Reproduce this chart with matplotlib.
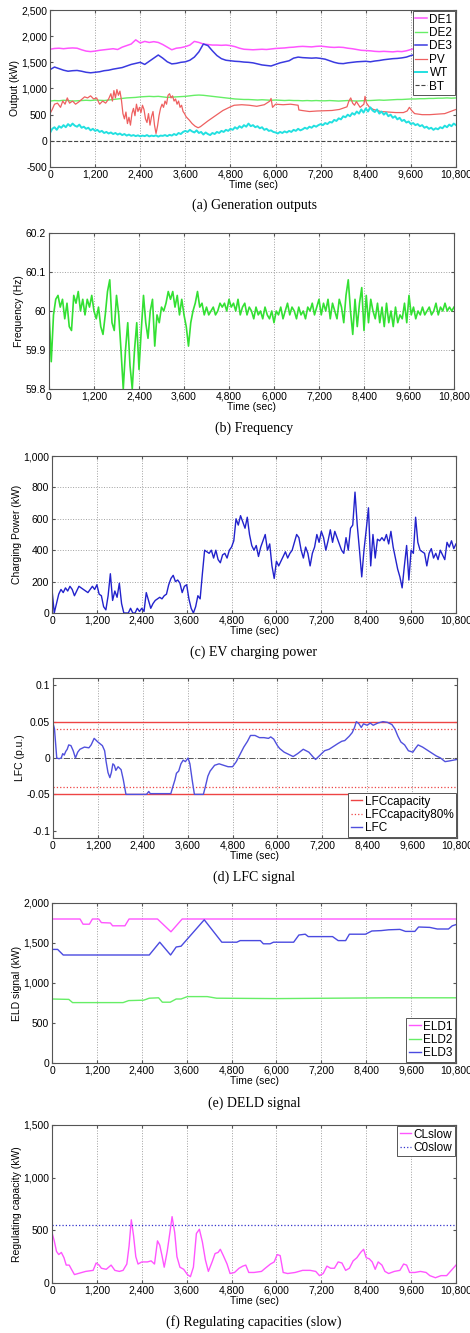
"""Six stacked microgrid panels: outputs, frequency, EV power, LFC, DELD, regulating capacity."""

import numpy as np
import matplotlib
matplotlib.use("Agg")
import matplotlib.pyplot as plt
import matplotlib.ticker as ticker

plt.rcParams["font.family"] = ["Liberation Sans", "DejaVu Sans"]

X_TICKS = [0, 1200, 2400, 3600, 4800, 6000, 7200, 8400, 9600, 10800]

# ---- (a) generation outputs ----
t_120 = np.arange(0, 10801, 120)
t_60 = np.arange(0, 10801, 60)

de1_kw = [1750, 1765, 1770, 1760, 1770, 1775, 1770, 1740, 1715, 1705,
          1715, 1730, 1740, 1750, 1760, 1745, 1790, 1820, 1850, 1930,
          1870, 1900, 1880, 1895, 1880, 1840, 1790, 1740, 1770, 1780,
          1800, 1830, 1900, 1880, 1850, 1840, 1830, 1830, 1825, 1830,
          1820, 1800, 1770, 1750, 1745, 1740, 1745, 1750, 1745, 1755,
          1765, 1770, 1775, 1785, 1790, 1800, 1805, 1800, 1795, 1805,
          1810, 1800, 1790, 1785, 1790, 1785, 1770, 1760, 1745, 1730,
          1725, 1720, 1710, 1705, 1710, 1705, 1700, 1710, 1705, 1720,
          1745, 1770, 1780, 1790, 1795, 1790, 1800, 1795, 1800, 1790,
          1780]
de2_kw = [760, 770, 765, 775, 770, 760, 765, 770, 775, 770,
          780, 775, 770, 780, 790, 800, 810, 820, 825, 830,
          840, 845, 850, 845, 850, 840, 830, 835, 840, 845,
          850, 860, 870, 875, 870, 860, 850, 840, 830, 820,
          810, 800, 795, 790, 790, 785, 780, 785, 780, 775,
          780, 775, 770, 775, 770, 770, 765, 770, 765, 770,
          765, 765, 770, 765, 760, 765, 770, 765, 760, 765,
          770, 770, 775, 780, 775, 780, 785, 790, 790, 795,
          800, 800, 805, 805, 810, 810, 815, 815, 820, 815,
          820]
de3_kw = [1360, 1410, 1380, 1350, 1330, 1340, 1345, 1330, 1310, 1300,
          1310, 1320, 1340, 1350, 1370, 1385, 1400, 1430, 1460, 1480,
          1500, 1460, 1520, 1580, 1640, 1580, 1510, 1470, 1480, 1500,
          1510, 1540, 1600, 1700, 1850, 1820, 1720, 1630, 1570, 1540,
          1530, 1520, 1515, 1505, 1500, 1490, 1470, 1450, 1440, 1430,
          1460, 1490, 1510, 1530, 1580, 1600, 1590, 1585, 1580, 1585,
          1575, 1560, 1530, 1500, 1480, 1475, 1490, 1500, 1510, 1515,
          1520, 1510, 1525, 1535, 1550, 1560, 1570, 1575, 1585, 1600,
          1630, 1650, 1645, 1640, 1645, 1640, 1650, 1645, 1650, 1645,
          1640]
pv_t = [0, 60, 120, 200, 280, 340, 400, 460, 520, 600, 680, 760, 840, 920,
        1000, 1080, 1160, 1240, 1320, 1400, 1480, 1560, 1620, 1660, 1700,
        1740, 1780, 1820, 1860, 1900, 1940, 1980, 2020, 2060, 2100, 2140,
        2180, 2220, 2260, 2300, 2340, 2380, 2420, 2460, 2500, 2540, 2580,
        2620, 2660, 2700, 2740, 2780, 2820, 2860, 2900, 2940, 2980, 3020,
        3060, 3100, 3140, 3180, 3220, 3260, 3300, 3340, 3380, 3420, 3460,
        3500, 3540, 3580, 3620, 3700, 3780, 3860, 3940, 4000, 4200, 4400,
        4600, 4800, 4900, 5100, 5300, 5500, 5700, 5850, 5880, 5920, 6000,
        6200, 6400, 6600, 6620, 6700, 6900, 7100, 7300, 7500, 7700, 7900,
        7950, 8000, 8050, 8100, 8150, 8250, 8350, 8380, 8420, 8500, 8600,
        8800, 9000, 9200, 9400, 9500, 9560, 9620, 9700, 9900, 10100, 10300,
        10500, 10650, 10800]
pv_kw = [520, 600, 700, 720, 640, 760, 700, 820, 720, 760, 700, 740, 790, 840,
         820, 860, 800, 820, 700, 760, 720, 800, 900, 760, 960,
         820, 980, 870, 950, 780, 520, 420, 550, 330, 450, 300,
         520, 620, 480, 700, 560, 640, 540, 680, 600, 420, 350,
         520, 300, 460, 560, 300, 140, 280, 480, 620, 700, 640,
         760, 700, 870, 900, 820, 860, 760, 800, 700, 760, 640,
         680, 560, 520, 460, 400, 330, 280, 250, 270, 380, 480,
         580, 650, 680, 690, 680, 660, 690, 760, 810, 640, 700,
         690, 700, 680, 590, 580, 560, 570, 575, 580, 600, 650,
         760, 820, 720, 680, 750, 640, 700, 850, 720, 640, 600,
         560, 550, 540, 540, 570, 640, 580, 520, 500, 500, 510,
         520, 560, 600]
wt_kw = [150, 230, 260, 210, 280, 250, 300, 260, 320, 280, 330, 290, 270, 310, 250, 270, 230, 250, 200, 230, 190,
         210, 170, 190, 150, 170, 140, 160, 130, 150, 120, 140, 110, 130, 100, 120, 95, 110, 90, 105, 85,
         100, 90, 110, 85, 100, 90, 105, 80, 100, 95, 110, 90, 115, 100, 130, 110, 150, 130, 170, 190,
         170, 210, 180, 160, 200, 150, 170, 120, 160, 130, 110, 150, 130, 170, 150, 190, 170, 210, 190, 230,
         210, 260, 230, 280, 250, 300, 270, 330, 280, 300, 260, 280, 240, 260, 210, 230, 190, 200, 170, 160,
         140, 170, 150, 180, 160, 190, 170, 210, 190, 230, 200, 220, 250, 230, 270, 250, 290, 270, 300, 320,
         300, 340, 320, 360, 350, 400, 380, 430, 410, 470, 450, 500, 470, 530, 500, 560, 520, 600, 540, 620,
         560, 640, 580, 550, 600, 520, 560, 500, 540, 470, 500, 440, 470, 410, 440, 380, 400, 350, 370, 320,
         340, 300, 320, 280, 300, 250, 270, 230, 250, 210, 240, 220, 260, 240, 290, 260, 310, 280, 330, 300]
bt_t = [0, 10800]
bt_kw = [0, 0]

# ---- (b) frequency ----
freq_hz = [60.00, 59.87, 59.99, 60.03, 60.04, 60.01, 60.03, 59.98, 60.02, 59.96, 59.95, 60.04, 60.02, 60.05, 60.00, 60.03, 59.99, 60.03, 60.01, 60.04, 60.00,
           59.98, 60.01, 59.96, 59.94, 59.99, 60.05, 60.08, 59.97, 59.95, 60.04, 59.99, 59.90, 59.80, 59.90, 59.97, 59.86, 59.80, 59.90, 59.97, 59.85,
           59.95, 60.04, 59.97, 59.93, 60.00, 60.03, 59.91, 59.99, 59.97, 60.01, 60.00, 60.02, 60.05, 60.03, 60.05, 60.01, 60.04, 59.99, 60.03, 59.99,
           59.96, 59.91, 59.97, 60.00, 60.02, 60.05, 60.01, 60.02, 59.99, 60.01, 59.99, 60.00, 60.01, 59.99, 60.00, 60.02, 60.01, 60.02, 60.00, 60.03,
           60.01, 60.02, 60.00, 60.03, 59.99, 60.01, 60.02, 59.99, 60.01, 60.00, 59.98, 60.01, 59.99, 60.00, 59.98, 60.01, 59.99, 59.98, 60.00, 59.97,
           60.00, 59.99, 60.01, 59.98, 60.00, 60.02, 59.99, 60.01, 60.00, 59.98, 60.01, 59.99, 60.00, 59.98, 60.01, 60.00, 60.02, 59.99, 60.01, 60.03,
           59.99, 60.02, 60.00, 60.03, 59.98, 60.02, 60.00, 59.98, 60.03, 60.01, 59.97, 60.04, 60.08, 60.00, 59.94, 60.03, 59.96, 60.02, 60.06, 59.95,
           60.04, 59.97, 60.03, 60.00, 59.98, 60.02, 59.97, 60.01, 59.96, 60.02, 59.97, 60.00, 59.96, 60.01, 59.97, 59.99, 59.98, 60.02, 59.97, 60.04,
           59.99, 60.01, 59.98, 60.00, 59.99, 60.01, 59.99, 60.00, 60.01, 59.99, 60.00, 60.02, 59.99, 60.01, 60.00, 60.02, 60.00, 60.01, 60.00, 60.01]

# ---- (c) EV charging power ----
ev_kw = [150, 0, 60, 120, 150, 130, 160, 140, 170, 150, 110, 140, 170, 160, 150, 140, 130, 150, 170, 150, 180,
         120, 110, 40, 20, 110, 250, 80, 140, 100, 190, 60, 0, 0, 0, 30, 0, 0, 30, 10, 30,
         10, 130, 80, 30, 60, 80, 90, 100, 90, 110, 120, 180, 220, 240, 200, 210, 190, 130, 170, 180,
         90, 30, 0, 40, 110, 90, 250, 400, 390, 380, 400, 350, 400, 340, 320, 370, 380, 350, 400, 420,
         460, 600, 560, 620, 580, 540, 610, 500, 430, 400, 430, 360, 420, 460, 500, 400, 440, 300, 220, 330,
         300, 330, 360, 390, 350, 380, 400, 450, 500, 480, 400, 350, 420, 380, 300, 380, 420, 500, 450, 520,
         480, 400, 460, 530, 450, 520, 480, 440, 400, 380, 480, 400, 540, 560, 770, 560, 400, 230, 400, 530,
         670, 300, 500, 350, 470, 460, 480, 460, 500, 440, 520, 420, 350, 280, 230, 160, 300, 430, 210, 400,
         380, 610, 450, 400, 390, 380, 300, 380, 410, 350, 380, 340, 400, 370, 340, 450, 420, 460, 410, 440]

# ---- (d) LFC signal ----
lfc_t = [0, 40, 100, 160, 220, 260, 300, 340, 380, 420, 480, 540, 600, 660, 720,
         840, 960, 1020, 1100, 1200, 1320, 1380, 1420, 1470, 1520, 1560, 1600,
         1640, 1680, 1740, 1820, 1880, 1950, 2500, 2560, 2600, 3150, 3200, 3260,
         3300, 3360, 3420, 3480, 3540, 3610, 3660, 3720, 3780, 4020, 4080, 4140,
         4200, 4320, 4440, 4560, 4680, 4800, 4900, 5000, 5100, 5200, 5280, 5400,
         5520, 5640, 5760, 5820, 5900, 6000, 6060, 6180, 6300, 6420, 6540, 6690,
         6840, 6960, 7020, 7140, 7260, 7380, 7500, 7620, 7720, 7800, 7920, 8000,
         8060, 8110, 8180, 8240, 8300, 8400, 8480, 8560, 8680, 8820, 8940, 9060,
         9140, 9220, 9300, 9400, 9500, 9620, 9700, 9760, 9880, 10000, 10120,
         10240, 10360, 10480, 10600, 10700, 10800]
lfc_pu = [0.048, 0.04, 0.0, -0.001, 0.0, 0.006, 0.004, 0.009, 0.012, 0.018, 0.017, 0.01, 0.0, 0.008, 0.012,
          0.015, 0.014, 0.018, 0.027, 0.022, 0.017, 0.01, -0.005, -0.02, -0.027, -0.02, -0.008,
          -0.01, -0.017, -0.012, -0.016, -0.03, -0.05, -0.05, -0.046, -0.049, -0.049, -0.04, -0.03,
          -0.021, -0.018, -0.008, -0.003, -0.005, 0.0, -0.008, -0.03, -0.05, -0.05, -0.038, -0.025,
          -0.018, -0.01, -0.008, -0.01, -0.012, -0.012, -0.005, 0.005, 0.015, 0.023, 0.031, 0.031,
          0.028, 0.028, 0.027, 0.029, 0.026, 0.017, 0.013, 0.008, 0.005, 0.002, 0.006, 0.012,
          0.008, 0.001, -0.002, 0.004, 0.01, 0.012, 0.016, 0.02, 0.023, 0.024, 0.03, 0.035,
          0.042, 0.05, 0.047, 0.042, 0.047, 0.045, 0.048, 0.045, 0.048, 0.05, 0.049, 0.046,
          0.04, 0.03, 0.022, 0.018, 0.01, 0.008, 0.014, 0.018, 0.015, 0.011, 0.007,
          0.003, 0.0, -0.005, -0.004, -0.003, -0.002]
lfc_cap = 0.05
lfc_cap80 = 0.04

# ---- (e) DELD signal ----
eld1_t = [0, 750, 830, 1000, 1080, 1250, 1320, 1560, 1620, 1950, 2060, 2820, 3180, 3480, 10800]
eld1_kw = [1800, 1800, 1735, 1735, 1800, 1800, 1755, 1750, 1715, 1715, 1800, 1800, 1640, 1800, 1800]
eld2_t = [0, 450, 550, 1900, 2050, 2450, 2600, 2850, 2950, 3160, 3320, 3450, 3620, 4150, 4400, 6000, 9000, 10800]
eld2_kw = [800, 795, 755, 755, 780, 785, 810, 815, 760, 760, 800, 800, 830, 830, 810, 805, 815, 815]
eld3_t = [0, 150, 300, 2600, 2880, 3170, 3320, 3450, 4070, 4540, 4940, 5030, 5570, 5650,
          5830, 5920, 6460, 6600, 6770, 6850, 7500, 7650, 7850, 7950, 8380, 8550, 8800,
          9000, 9300, 9450, 9700, 9800, 10100, 10300, 10600, 10700, 10800]
eld3_kw = [1420, 1420, 1350, 1350, 1510, 1350, 1450, 1460, 1790, 1510, 1510, 1530, 1530, 1490,
           1490, 1510, 1510, 1600, 1610, 1580, 1580, 1530, 1530, 1610, 1610, 1650, 1655,
           1665, 1670, 1645, 1645, 1700, 1695, 1675, 1675, 1715, 1730]

# ---- (f) regulating capacities (slow) ----
cl_t = [0, 60, 120, 180, 250, 320, 380, 460, 520, 600, 700, 900, 1100, 1180, 1260, 1320,
        1450, 1580, 1680, 1800, 1900, 2000, 2060, 2120, 2180, 2240, 2300, 2400, 2550,
        2650, 2740, 2820, 2880, 2940, 3000, 3080, 3160, 3210, 3280, 3340, 3420, 3520,
        3620, 3700, 3780, 3860, 3940, 4020, 4100, 4180, 4280, 4360, 4440, 4500, 4580,
        4680, 4760, 4880, 5000, 5100, 5180, 5260, 5400, 5600, 5700, 5840, 5940, 6020,
        6100, 6180, 6300, 6500, 6700, 6900, 7050, 7150, 7250, 7350, 7450, 7550, 7650,
        7750, 7850, 7950, 8050, 8150, 8250, 8330, 8400, 8480, 8560, 8640, 8720, 8820,
        8900, 9000, 9150, 9300, 9400, 9480, 9560, 9700, 9850, 10000, 10100, 10250,
        10400, 10550, 10650, 10800]
cl_kw = [480, 400, 300, 270, 290, 240, 170, 170, 130, 80, 90, 110, 120, 190, 170, 140,
         130, 170, 120, 110, 120, 180, 350, 600, 450, 250, 180, 200, 200,
         210, 180, 400, 360, 260, 150, 300, 500, 630, 480, 250, 150, 130,
         80, 60, 150, 470, 510, 390, 220, 110, 200, 280, 290, 320, 260,
         180, 90, 100, 140, 160, 170, 100, 100, 110, 140, 180, 200, 270,
         260, 100, 90, 100, 120, 120, 110, 70, 90, 160, 140, 140, 200,
         190, 120, 140, 210, 240, 290, 320, 240, 230, 200, 130, 200, 170,
         110, 90, 110, 120, 180, 170, 100, 100, 110, 100, 70, 50,
         70, 70, 110, 170]
c0_kw = [550, 550]

FIG_W, FIG_H = 470, 1333
GRID = dict(color="#a0a0a0", ls=":", lw=0.7)


def add_axes(fig, left, right, top, bottom):
    ax = fig.add_axes([left / FIG_W, 1 - bottom / FIG_H,
                       (right - left) / FIG_W, (bottom - top) / FIG_H])
    for s in ax.spines.values():
        s.set_color("#555555")
        s.set_linewidth(0.8)
    ax.tick_params(direction="in", length=2, labelsize=7.5, pad=2,
                   top=True, right=True, color="#555555")
    ax.set_xlim(0, 10800)
    ax.set_xticks(X_TICKS)
    ax.xaxis.set_major_formatter(ticker.FuncFormatter(lambda v, p: f"{v:,.0f}"))
    ax.set_xlabel("Time (sec)", fontsize=7.5, labelpad=0)
    ax.set_axisbelow(True)
    return ax


def caption(fig, y, text):
    fig.text(254 / FIG_W, 1 - y / FIG_H, text, ha="center", va="center",
             fontsize=10, family=["Liberation Serif", "DejaVu Serif"])


def legend(ax, loc):
    lg = ax.legend(loc=loc, fontsize=8.5, handlelength=1.0, handletextpad=0.2,
                   borderpad=0.2, labelspacing=0.12, borderaxespad=0.1,
                   fancybox=False, framealpha=1, edgecolor="#555555")
    lg.get_frame().set_linewidth(0.7)
    return lg


def comma(ax):
    ax.yaxis.set_major_formatter(ticker.FuncFormatter(lambda v, p: f"{v:,.0f}"))


fig = plt.figure(figsize=(FIG_W / 100, FIG_H / 100), dpi=100)

# (a)
ax = add_axes(fig, 50, 456, 10, 167)
ax.plot(t_120, de1_kw, color="#ff55ff", lw=1.1, label="DE1")
ax.plot(t_120, de2_kw, color="#66ee66", lw=1.0, label="DE2")
ax.plot(t_120, de3_kw, color="#3a3ae0", lw=1.1, label="DE3")
ax.plot(pv_t, pv_kw, color="#ee6060", lw=0.9, label="PV")
ax.plot(t_60, wt_kw, color="#22e0e0", lw=1.4, label="WT")
ax.plot(bt_t, bt_kw, color="#444444", lw=0.8, ls="--", label="BT")
ax.set_ylim(-500, 2500)
ax.set_yticks(range(-500, 2501, 500))
comma(ax)
ax.grid(axis="x", **GRID)
ax.set_ylabel("Output (kW)", fontsize=7.5, labelpad=1)
legend(ax, "upper right")
caption(fig, 205, "(a) Generation outputs")

# (b)
ax = add_axes(fig, 49, 454, 233, 389)
ax.plot(t_60, freq_hz, color="#33e033", lw=1.2)
ax.set_ylim(59.8, 60.2)
ax.set_yticks([59.8, 59.9, 60.0, 60.1, 60.2])
ax.set_yticklabels(["59.8", "59.9", "60", "60.1", "60.2"])
ax.grid(True, **GRID)
ax.set_ylabel("Frequency (Hz)", fontsize=7.5, labelpad=1)
caption(fig, 428, "(b) Frequency")

# (c)
ax = add_axes(fig, 52, 456, 456, 613)
ax.plot(t_60, ev_kw, color="#2222cc", lw=1.0)
ax.set_ylim(0, 1000)
ax.set_yticks(range(0, 1001, 200))
comma(ax)
ax.grid(True, **GRID)
ax.set_ylabel("Charging Power (kW)", fontsize=7.5, labelpad=1)
caption(fig, 652, "(c) EV charging power")

# (d)
ax = add_axes(fig, 53, 457, 678, 838)
ax.axhline(0, color="#555555", lw=0.7, ls="-.")
ax.axhline(lfc_cap, color="#ee4444", lw=1.0, label="LFCcapacity")
ax.axhline(lfc_cap80, color="#ee4444", lw=0.9, ls=":", label="LFCcapacity80%")
ax.axhline(-lfc_cap, color="#ee4444", lw=1.0)
ax.axhline(-lfc_cap80, color="#ee4444", lw=0.9, ls=":")
ax.plot(lfc_t, lfc_pu, color="#5050dd", lw=1.0, label="LFC")
ax.set_ylim(-0.11, 0.11)
ax.set_yticks([-0.1, -0.05, 0, 0.05, 0.1])
ax.set_yticklabels(["-0.1", "-0.05", "0", "0.05", "0.1"])
ax.grid(axis="x", **GRID)
ax.set_ylabel("LFC (p.u.)", fontsize=7.5, labelpad=1)
legend(ax, "lower right")
caption(fig, 877, "(d) LFC signal")

# (e)
ax = add_axes(fig, 52, 456, 903, 1063)
ax.plot(eld1_t, eld1_kw, color="#ff55ff", lw=1.0, label="ELD1")
ax.plot(eld2_t, eld2_kw, color="#66ee66", lw=1.0, label="ELD2")
ax.plot(eld3_t, eld3_kw, color="#4a4ae0", lw=1.0, label="ELD3")
ax.set_ylim(0, 2000)
ax.set_yticks(range(0, 2001, 500))
comma(ax)
ax.grid(axis="x", **GRID)
ax.set_ylabel("ELD signal (kW)", fontsize=7.5, labelpad=1)
legend(ax, "lower right")
caption(fig, 1103, "(e) DELD signal")

# (f)
ax = add_axes(fig, 52, 456, 1125, 1283)
ax.plot(cl_t, cl_kw, color="#ff55ff", lw=1.0, label="CLslow")
ax.plot(bt_t, c0_kw, color="#3333cc", lw=0.9, ls=":", label="C0slow")
ax.set_ylim(0, 1500)
ax.set_yticks(range(0, 1501, 500))
comma(ax)
ax.grid(axis="x", **GRID)
ax.set_ylabel("Regulating capacity (kW)", fontsize=7.5, labelpad=1)
legend(ax, "upper right")
caption(fig, 1322, "(f) Regulating capacities (slow)")

fig.savefig("out.png", dpi=100)
